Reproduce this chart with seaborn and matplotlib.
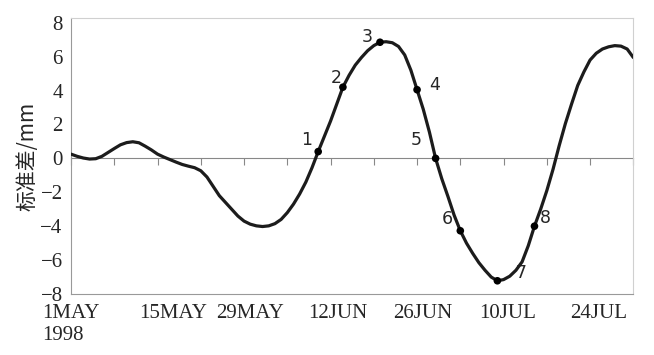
import matplotlib.pyplot as plt
import numpy as np
import pandas as pd
import seaborn as sns

sns.set_style("white")
plt.rcParams['font.family'] = ['Liberation Serif', 'DejaVu Serif']

# day 0 = 1 May 1998, one value per day
days = list(range(92))
std_mm = [0.25, 0.12, 0.02, -0.04, -0.02, 0.12, 0.35, 0.58, 0.8, 0.93,
          0.98, 0.92, 0.72, 0.5, 0.25, 0.08, -0.07, -0.22, -0.36, -0.46,
          -0.55, -0.73, -1.1, -1.65, -2.2, -2.6, -3.0, -3.4, -3.7, -3.88,
          -3.98, -4.02, -3.98, -3.85, -3.6, -3.2, -2.7, -2.1, -1.4, -0.55,
          0.4, 1.3, 2.2, 3.2, 4.2, 4.9, 5.5, 5.95, 6.35, 6.65,
          6.85, 6.88, 6.82, 6.6, 6.1, 5.2, 4.05, 2.9, 1.55, 0.0,
          -1.2, -2.25, -3.35, -4.27, -5.0, -5.6, -6.15, -6.6, -7.0, -7.22,
          -7.15, -6.95, -6.6, -6.1, -5.15, -4.0, -3.0, -1.9, -0.65, 0.75,
          2.05, 3.2, 4.3, 5.1, 5.8, 6.2, 6.45, 6.58, 6.65, 6.62,
          6.45, 5.95]

marked_days = [40, 44, 50, 56, 59, 63, 69, 75]
marked_names = ['1', '2', '3', '4', '5', '6', '7', '8']
name_offsets = [(-12, 12), (-7, 9), (-13, 5), (18, 5), (-19, 18), (-13, 12), (24, 8), (11, 8)]

tick_days = [0, 16.5, 29, 43.2, 57, 70.7, 85.35]
tick_labels = ['1MAY\n1998', '15MAY', '29MAY', '12JUN', '26JUN', '10JUL', '24JUL']
week_days = list(range(0, 92, 7))
yticks = list(range(-8, 9, 2))

df = pd.DataFrame({'day': days, 'std': std_mm})
marked = df[df['day'].isin(marked_days)]

fig = plt.figure(figsize=(6.54, 3.55), dpi=100)
ax = fig.add_axes([0.1086, 0.1718, 0.8598, 0.7761])

sns.lineplot(data=df, x='day', y='std', ax=ax, color='#1c1c1c', linewidth=2.3, zorder=4)
sns.scatterplot(data=marked, x='day', y='std', ax=ax, color='black', s=30,
                edgecolor='none', zorder=5)

for (d, v), name, off in zip(marked[['day', 'std']].values, marked_names, name_offsets):
    ax.annotate(name, (d, v), xytext=off, textcoords='offset pixels',
                ha='center', va='center', fontsize=12.5, family='DejaVu Sans')

ax.set_xlim(0, 91)
ax.set_ylim(-8, 8.25)
ax.set_yticks(yticks)
ax.set_xticks(tick_days)
ax.set_xticklabels(tick_labels)
ax.get_xticklabels()[0].set_multialignment('left')
ax.set_xlabel('')
ax.set_ylabel('标准差/mm', family=['Noto Sans CJK SC', 'DejaVu Sans'], fontsize=15)
ax.yaxis.set_label_coords(-0.058, 0.5)

ax.tick_params(axis='y', direction='out', length=4, color='#888888', labelsize=15, pad=2)
ax.tick_params(axis='x', direction='inout', length=5, color='#aaaaaa', labelsize=15, pad=5)
for s in ['left', 'bottom']:
    ax.spines[s].set_color('#999999')
for s in ['top', 'right']:
    ax.spines[s].set_color('#d0d0d0')

# zero line with weekly ticks
zero_pos = 8 / 16.25
sec = ax.secondary_xaxis(zero_pos)
sec.set_xticks(week_days)
sec.set_xticklabels([])
sec.tick_params(direction='out', length=5, color='#888888')
sec.spines['bottom'].set_color('#888888')

fig.savefig('out.png', dpi=100)
